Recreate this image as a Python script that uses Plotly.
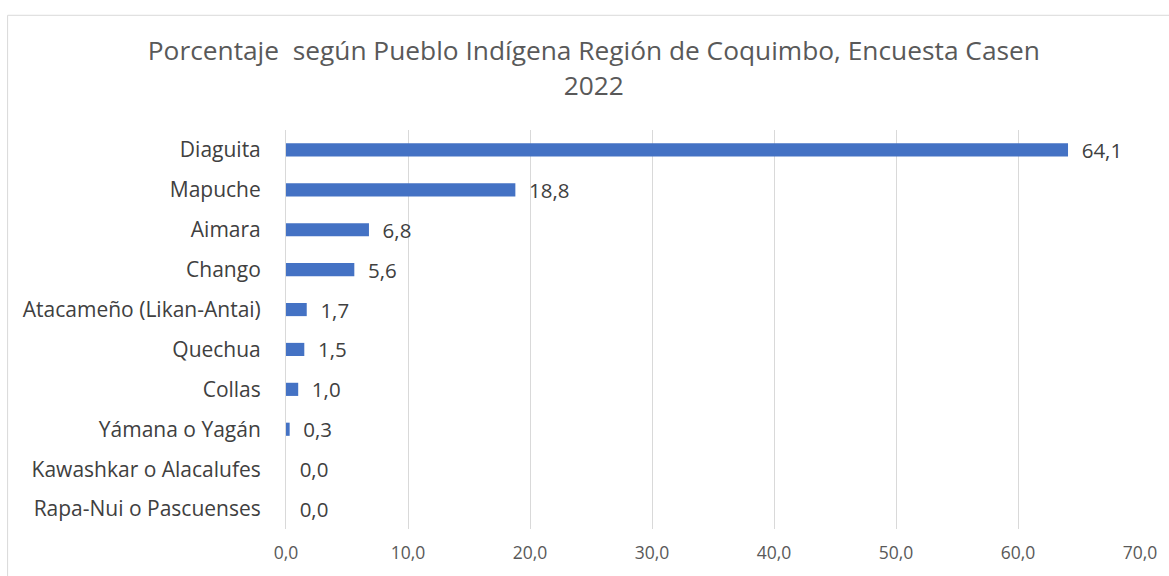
import plotly.graph_objects as go

categories = ["Diaguita", "Mapuche", "Aimara", "Chango", "Atacameño (Likan-Antai)",
              "Quechua", "Collas", "Yámana o Yagán", "Kawashkar o Alacalufes",
              "Rapa-Nui o Pascuenses"]
values = [64.1, 18.8, 6.8, 5.6, 1.7, 1.5, 1.0, 0.3, 0.0, 0.0]
x_ticks = [0, 10, 20, 30, 40, 50, 60, 70]

fig = go.Figure(go.Bar(
    x=values, y=categories, orientation="h",
    marker=dict(color="#4472C4", line=dict(width=0)),
    texttemplate="\u00a0\u00a0%{x:.1f}", textposition="outside",
    constraintext="none",
    textfont=dict(family="Open Sans", size=20.5, color="#404040"),
    cliponaxis=False,
))

fig.update_layout(
    width=1169, height=576,
    separators=",.",
    paper_bgcolor="white", plot_bgcolor="white",
    margin=dict(l=286, r=27, t=130, b=34),
    bargap=0.67,
    showlegend=False,
    font=dict(family="Open Sans", color="#595959"),
    title=dict(
        text="Porcentaje  según Pueblo Indígena Región de Coquimbo, Encuesta Casen<br>2022",
        x=0.508, xanchor="center", y=0.895, yanchor="middle",
        font=dict(family="Open Sans", size=26.3, color="#595959"),
    ),
    xaxis=dict(
        range=[0, 70], tickvals=x_ticks, tickformat=".1f",
        showgrid=True, gridcolor="#d9d9d9", gridwidth=1,
        zeroline=False, showline=False,
        tickfont=dict(family="Open Sans", size=17.5, color="#595959"),
        ticklabelstandoff=11,
    ),
    yaxis=dict(
        categoryorder="array", categoryarray=categories, autorange="reversed",
        showline=True, linecolor="#d9d9d9", linewidth=1,
        showgrid=False, ticks="",
        tickfont=dict(family="Open Sans", size=21, color="#404040"),
        ticklabelstandoff=20,
    ),
    shapes=[dict(type="rect", xref="paper", yref="paper",
                 x0=-0.326, x1=1.1, y0=-0.3, y1=1.2875,
                 line=dict(color="#d9d9d9", width=1), layer="below")],
)

fig.write_html("out.html")
